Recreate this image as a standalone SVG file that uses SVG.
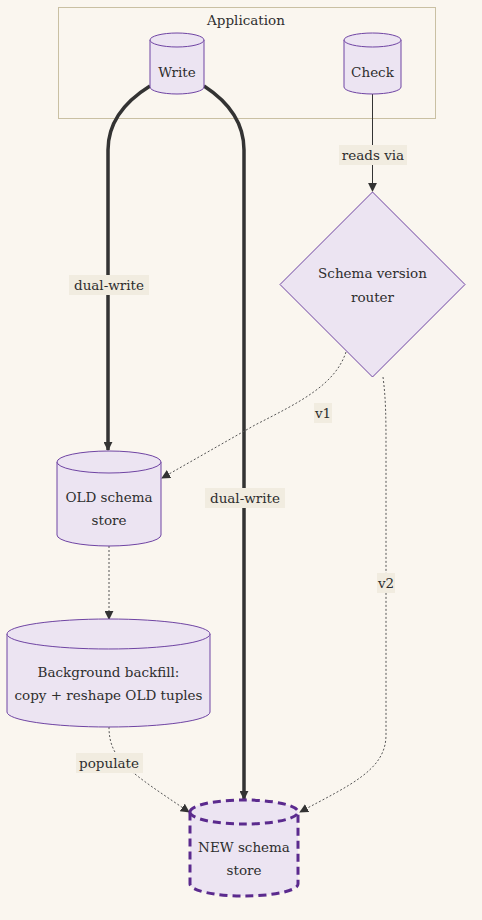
<svg xmlns="http://www.w3.org/2000/svg" width="482" height="920" viewBox="0 0 482 920">
<defs>
<style>
text{font-family:"DejaVu Serif","Liberation Serif",serif;font-size:13.5px;fill:#2e2e2e;text-anchor:middle;dominant-baseline:central}
.node{fill:#ece4f2;stroke:#6f44a3;stroke-width:1}
.newn{fill:#ece4f2;stroke:#5b2a8e;stroke-width:3;stroke-dasharray:8 5}
.thick{fill:none;stroke:#333;stroke-width:3.5}
.dot{fill:none;stroke:#555;stroke-width:1;stroke-dasharray:2 2}
.solid{fill:none;stroke:#333;stroke-width:1}
.lbl{fill:#f1ece0}
</style>
<marker id="ah" viewBox="0 0 10 10" refX="9" refY="5" markerWidth="9" markerHeight="9" markerUnits="userSpaceOnUse" orient="auto"><path d="M0,0L10,5L0,10z" fill="#333"/></marker>
</defs>
<rect width="482" height="920" fill="#faf6ef"/>
<g id="cluster-application">
<rect x="58.5" y="7.5" width="377" height="111" fill="none" stroke="#c9c0a3" stroke-width="1"/>
<text x="246" y="20">Application</text>
</g>
<g id="edges">
<path class="thick" d="M150,86 Q108,112 108,150 L108,450" marker-end="url(#ah)"/>
<path class="thick" d="M204,86 Q244,112 244,150 L244,799" marker-end="url(#ah)"/>
<path class="solid" d="M372.5,94 L372.5,191" marker-end="url(#ah)"/>
<path class="dot" d="M346,352 C335,385 300,402 255,425 L162,478" marker-end="url(#ah)"/>
<path class="dot" d="M383,377 C386,400 386,420 386,450 L386,735 C386,770 350,785 300,812" marker-end="url(#ah)"/>
<path class="dot" d="M109,546 L109,619" marker-end="url(#ah)"/>
<path class="dot" d="M109,727 C109,760 130,772 189,812" marker-end="url(#ah)"/>
<rect class="lbl" x="339" y="145" width="68" height="20"/><text x="373" y="155">reads via</text>
<rect class="lbl" x="69" y="275" width="80" height="20"/><text x="109" y="285">dual-write</text>
<rect class="lbl" x="205" y="488" width="80" height="20"/><text x="245" y="498">dual-write</text>
<rect class="lbl" x="314" y="403" width="18" height="20"/><text x="323" y="413">v1</text>
<rect class="lbl" x="377" y="573" width="18" height="20"/><text x="386" y="583">v2</text>
<rect class="lbl" x="76" y="753" width="67" height="20"/><text x="109" y="763">populate</text>
</g>
<g id="node-write">
<path class="node" d="M150,40 A27,7 0 0 1 204,40 L204,87 A27,7 0 0 1 150,87 Z"/>
<path class="node" fill="none" d="M150,40 A27,7 0 0 0 204,40"/>
<text x="177" y="72">Write</text>
</g>
<g id="node-check">
<path class="node" d="M344,40 A28.5,7 0 0 1 401,40 L401,87 A28.5,7 0 0 1 344,87 Z"/>
<path class="node" fill="none" d="M344,40 A28.5,7 0 0 0 401,40"/>
<text x="372.5" y="72">Check</text>
</g>
<g id="node-router">
<polygon class="node" points="372.5,192 465,284.5 372.5,377 280,284.5"/>
<text x="372.5" y="273">Schema version</text>
<text x="372.5" y="297">router</text>
</g>
<g id="node-old">
<path class="node" d="M57,462 A52,11 0 0 1 161,462 L161,535 A52,11 0 0 1 57,535 Z"/>
<path class="node" fill="none" d="M57,462 A52,11 0 0 0 161,462"/>
<text x="109" y="497">OLD schema</text>
<text x="109" y="520">store</text>
</g>
<g id="node-backfill">
<path class="node" d="M7,634 A101.5,15 0 0 1 210,634 L210,712 A101.5,15 0 0 1 7,712 Z"/>
<path class="node" fill="none" d="M7,634 A101.5,15 0 0 0 210,634"/>
<text x="108.5" y="672">Background backfill:</text>
<text x="108.5" y="695">copy + reshape OLD tuples</text>
</g>
<g id="node-new">
<path class="newn" d="M190,812 A54,12 0 0 1 298,812 L298,884 A54,12 0 0 1 190,884 Z"/>
<path class="newn" fill="none" d="M190,812 A54,12 0 0 0 298,812"/>
<text x="244" y="847">NEW schema</text>
<text x="244" y="870">store</text>
</g>
</svg>
